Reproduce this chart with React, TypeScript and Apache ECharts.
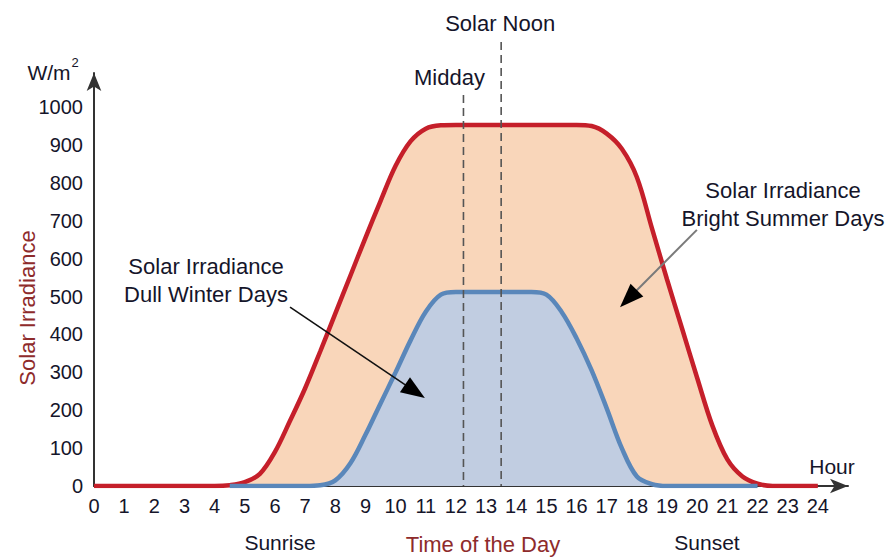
import React, { useEffect, useRef } from "react";
import * as echarts from "echarts";

// ---- Data ----
const summerHours = [0, 4, 4.5, 5, 5.5, 6, 6.5, 7, 7.5, 8, 8.5, 9, 9.5, 10, 10.5, 11, 11.5, 12, 13, 14, 15, 16, 16.5, 17, 17.5, 18, 18.5, 19, 19.5, 20, 20.5, 21, 21.5, 22, 22.5, 23, 24];
const summerValues = [0, 0, 2, 10, 32, 90, 172, 258, 355, 455, 555, 655, 752, 845, 910, 943, 952, 953, 953, 953, 953, 953, 950, 930, 890, 815, 680, 545, 415, 285, 160, 70, 25, 6, 0, 0, 0];

const winterHours = [4.5, 7, 7.5, 8, 8.5, 9, 9.5, 10, 10.5, 11, 11.5, 12, 13, 14, 14.5, 15, 15.5, 16, 16.5, 17, 17.5, 18, 18.5, 19, 22];
const winterValues = [0, 0, 2, 15, 60, 135, 218, 300, 385, 460, 505, 512, 512, 512, 512, 505, 460, 390, 305, 205, 100, 25, 5, 0, 0];

const MIDDAY = 12.25;
const SOLAR_NOON = 13.5;

const X_MIN = 0;
const X_MAX_LABEL = 24;
const X_AXIS_END = 25;
const Y_MAX_LABEL = 1000;
const Y_AXIS_END = 1090;

// annotation arrows in data coordinates: [hour, value] start -> tip
const winterArrow = [[6.5, 472], [10.97, 232]];
const summerArrow = [[19.99, 676], [17.44, 472]];

const FONT = "'Liberation Sans', Arial, sans-serif";
const MAROON = "#8e2b2b";
const INK = "#15152a";

function arrow(x1: number, y1: number, x2: number, y2: number, lineColor: string, lw: number) {
  const dx = x2 - x1, dy = y2 - y1;
  const len = Math.hypot(dx, dy);
  const ux = dx / len, uy = dy / len;
  const hl = 24, hw = 9;
  const bx = x2 - ux * hl, by = y2 - uy * hl;
  const px = -uy, py = ux;
  return [
    { type: "line", z: 100, shape: { x1, y1, x2: bx + ux * 4, y2: by + uy * 4 }, style: { stroke: lineColor, lineWidth: lw } },
    {
      type: "polygon", z: 101,
      shape: { points: [[x2, y2], [bx + px * hw, by + py * hw], [bx - px * hw, by - py * hw]] },
      style: { fill: "#000" },
    },
  ];
}

export default function App() {
  const ref = useRef<HTMLDivElement>(null);

  useEffect(() => {
    if (!ref.current) return;
    const chart = echarts.init(ref.current, undefined, { renderer: "svg" });

    const summer = summerHours.map((h, i) => [h, summerValues[i]]);
    const winter = winterHours.map((h, i) => [h, winterValues[i]]);

    const option: any = {
      animation: false,
      grid: { left: 94, right: 46, top: 73, bottom: 71 },
      xAxis: {
        type: "value",
        min: X_MIN,
        max: X_AXIS_END,
        interval: 1,
        axisLine: {
          show: true,
          onZero: true,
          symbol: ["none", "arrow"],
          symbolSize: [11, 18],
          lineStyle: { color: "#333", width: 2 },
        },
        axisTick: { show: false },
        splitLine: { show: false },
        axisLabel: {
          formatter: (v: number) => (v <= X_MAX_LABEL && Number.isInteger(v) ? String(v) : ""),
          fontSize: 20,
          fontFamily: FONT,
          color: INK,
          margin: 10,
        },
      },
      yAxis: {
        type: "value",
        min: 0,
        max: Y_AXIS_END,
        interval: 100,
        axisLine: {
          show: true,
          symbol: ["none", "arrow"],
          symbolSize: [11, 18],
          lineStyle: { color: "#333", width: 2 },
        },
        axisTick: { show: false },
        splitLine: { show: false },
        axisLabel: {
          formatter: (v: number) => (v <= Y_MAX_LABEL ? String(v) : ""),
          fontSize: 20,
          fontFamily: FONT,
          color: INK,
          margin: 11,
        },
      },
      series: [
        {
          name: "Bright Summer Days",
          type: "line",
          data: summer,
          smooth: 0.35,
          symbol: "none",
          z: 2,
          lineStyle: { color: "#c51f2a", width: 4.5 },
          areaStyle: { color: "#f9d6ba", opacity: 1 },
        },
        {
          name: "Dull Winter Days",
          type: "line",
          data: winter,
          smooth: 0.35,
          symbol: "none",
          z: 3,
          lineStyle: { color: "#5a87ba", width: 4.5 },
          areaStyle: { color: "#c1cde1", opacity: 1 },
        },
      ],
    };

    chart.setOption(option);

    const px = (h: number) => chart.convertToPixel({ xAxisIndex: 0 }, h) as number;
    const py = (v: number) => chart.convertToPixel({ yAxisIndex: 0 }, v) as number;
    const y0 = py(0);
    const xMid = px(MIDDAY);
    const xNoon = px(SOLAR_NOON);

    const txt = (text: string, x: number, y: number, size: number, color: string, extra: any = {}) => ({
      type: "text",
      z: 110,
      x,
      y,
      ...extra,
      style: {
        text,
        fill: color,
        font: `${size}px ${FONT}`,
        align: "center",
        verticalAlign: "middle",
        lineHeight: 28,
        ...(extra.style || {}),
      },
    });

    const dash = { stroke: "#555", lineWidth: 1.6, lineDash: [8, 5] };

    const wa = winterArrow.map(([h, v]) => [px(h), py(v)]);
    const sa = summerArrow.map(([h, v]) => [px(h), py(v)]);

    chart.setOption({
      graphic: [
        { type: "line", z: 90, shape: { x1: xMid, y1: 95, x2: xMid, y2: y0 }, style: dash },
        { type: "line", z: 90, shape: { x1: xNoon, y1: 42, x2: xNoon, y2: y0 }, style: dash },
        txt("Solar Noon", xNoon - 1, 23, 22, INK),
        txt("Midday", xMid - 14, 77, 22, INK),
        txt("W/m", 49, 72, 21, INK),
        txt("2", 75, 62, 13, INK),
        txt("Hour", 832, 466, 21, INK),
        txt("Sunrise", 280, 542, 21, INK),
        txt("Sunset", 707, 542, 21, INK),
        txt("Time of the Day", 483, 544, 22, MAROON),
        txt("Solar Irradiance", 27, 308, 22, MAROON, { rotation: Math.PI / 2 }),
        txt("Solar Irradiance\nDull Winter Days", 206, 280, 22, INK),
        txt("Solar Irradiance\nBright Summer Days", 783, 204, 22, INK),
        ...arrow(wa[0][0], wa[0][1], wa[1][0], wa[1][1], "#111", 1.6),
        ...arrow(sa[0][0], sa[0][1], sa[1][0], sa[1][1], "#7a7a7a", 2),
      ],
    });

    return () => chart.dispose();
  }, []);

  return (
    <div
      ref={ref}
      style={{ position: "absolute", left: 0, top: 0, width: 894, height: 557, background: "#fff" }}
    />
  );
}
